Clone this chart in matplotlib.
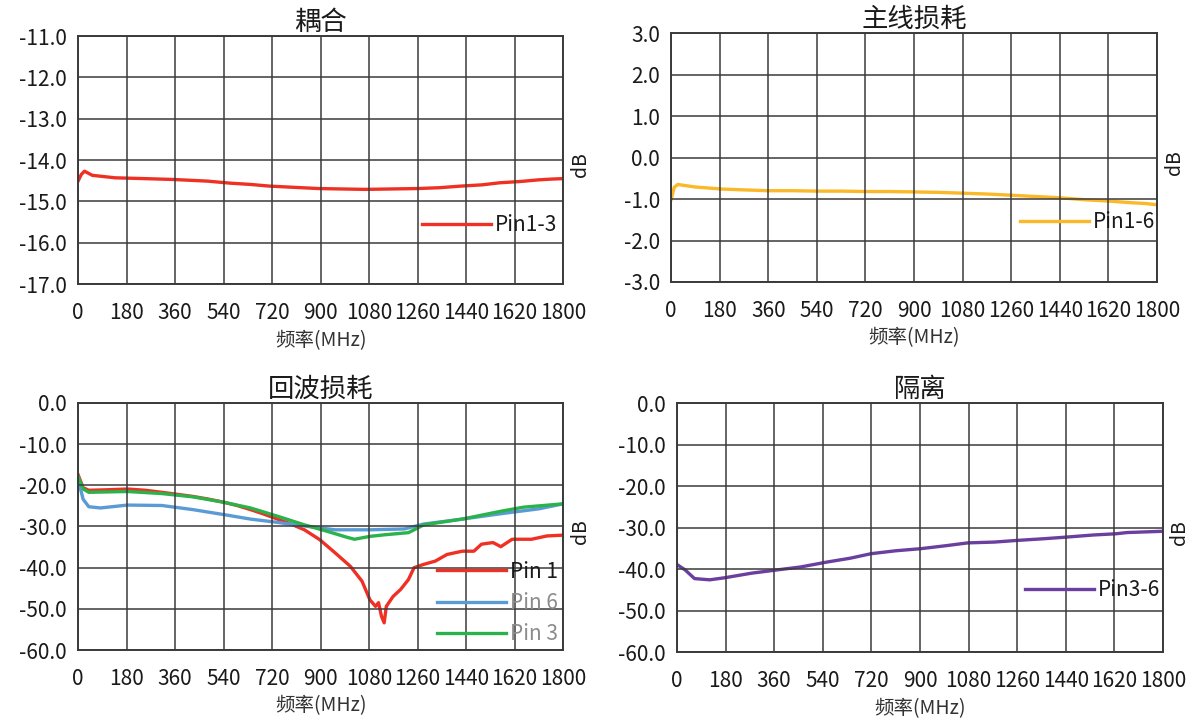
import numpy as np
import matplotlib
matplotlib.use('Agg')
import matplotlib.pyplot as plt

plt.rcParams['font.family'] = ['Noto Sans CJK SC', 'DejaVu Sans']

# frequency ticks (MHz)
x_ticks = [0, 180, 360, 540, 720, 900, 1080, 1260, 1440, 1620, 1800]

# 耦合 Pin1-3
f_cpl = [0, 12, 24, 53, 138, 250, 352, 480, 566, 640, 709, 800, 894, 980, 1066, 1160, 1258, 1340, 1422, 1500, 1565, 1640, 1708, 1760, 1800]
v_cpl = [-14.51, -14.35, -14.27, -14.37, -14.43, -14.45, -14.47, -14.51, -14.56, -14.59, -14.63, -14.66, -14.69, -14.70, -14.71, -14.70, -14.69, -14.67, -14.63, -14.60, -14.55, -14.52, -14.48, -14.46, -14.45]

# 主线损耗 Pin1-6
f_il = [0, 12, 25, 89, 187, 270, 356, 450, 539, 630, 721, 810, 904, 990, 1080, 1170, 1263, 1350, 1439, 1537, 1622, 1706, 1760, 1800]
v_il = [-1.02, -0.72, -0.65, -0.71, -0.76, -0.78, -0.80, -0.80, -0.81, -0.81, -0.82, -0.82, -0.83, -0.84, -0.86, -0.88, -0.91, -0.94, -0.97, -1.02, -1.05, -1.09, -1.11, -1.14]

# 回波损耗 Pin 1 / Pin 6 / Pin 3
f_p1 = [0, 19, 40, 100, 183, 250, 311, 370, 426, 480, 540, 590, 640, 690, 740, 790, 840, 897, 954, 1011, 1054, 1083, 1104, 1115, 1126, 1136, 1144, 1169, 1197, 1226, 1247, 1283, 1326, 1369, 1426, 1469, 1497, 1540, 1569, 1611, 1683, 1740, 1800]
v_p1 = [-17.4, -20.6, -21.2, -21.1, -20.9, -21.2, -21.7, -22.2, -22.7, -23.3, -24.1, -24.9, -25.9, -27.0, -28.2, -29.4, -30.8, -33.2, -36.4, -39.7, -43.3, -47.8, -49.4, -48.5, -51.8, -53.4, -49.4, -47.0, -45.3, -42.9, -40.0, -39.2, -38.4, -36.8, -36.0, -36.0, -34.3, -33.9, -34.9, -33.1, -33.1, -32.3, -32.1]

f_p6 = [0, 19, 40, 83, 183, 311, 426, 540, 640, 740, 854, 954, 1083, 1211, 1283, 1426, 1569, 1711, 1800]
v_p6 = [-18.5, -23.4, -25.2, -25.5, -24.8, -24.9, -25.9, -27.1, -28.2, -29.0, -30.0, -30.8, -30.8, -30.6, -29.4, -28.2, -26.9, -25.7, -24.5]

f_p3 = [0, 19, 40, 183, 311, 426, 540, 640, 740, 840, 926, 997, 1026, 1083, 1140, 1226, 1283, 1426, 1569, 1654, 1800]
v_p3 = [-17.8, -20.9, -21.7, -21.5, -22.0, -22.8, -24.1, -25.5, -27.5, -29.6, -31.2, -32.6, -33.1, -32.4, -32.0, -31.5, -29.6, -28.2, -26.3, -25.3, -24.5]

# 隔离 Pin3-6
f_iso = [0, 30, 65, 121, 177, 276, 360, 458, 557, 641, 719, 810, 902, 993, 1077, 1176, 1260, 1358, 1443, 1541, 1626, 1668, 1800]
v_iso = [-38.9, -40.2, -42.3, -42.6, -42.1, -41.0, -40.3, -39.5, -38.3, -37.4, -36.3, -35.6, -35.1, -34.4, -33.7, -33.5, -33.1, -32.7, -32.3, -31.8, -31.5, -31.2, -30.9]

grid_c = '#3a3a3a'


def setup(ax, title, ylim, yticks):
  ax.set_xlim(0, 1800)
  ax.set_ylim(*ylim)
  ax.set_xticks(x_ticks)
  ax.set_yticks(yticks)
  ax.set_yticklabels([f"{t:.1f}" for t in yticks])
  ax.grid(True, color=grid_c, lw=1.1)
  ax.set_axisbelow(False)
  for s in ax.spines.values():
    s.set_color(grid_c)
    s.set_linewidth(1.4)
  ax.tick_params(axis='x', pad=13)
  ax.tick_params(axis='y', pad=8)
  ax.tick_params(length=0, labelsize=15, colors='#1a1a1a')
  ax.set_title(title, fontsize=19, pad=2, color='#1a1a1a')
  ax.set_xlabel('频率(MHz)', fontsize=14, color='#333333', labelpad=4)
  ax.text(1.035, 0.48, 'dB', rotation=90, transform=ax.transAxes,
          ha='center', va='center', fontsize=14, color='#1a1a1a')


fig = plt.figure(figsize=(11.95, 7.24), dpi=100)
ax1 = fig.add_axes([0.0653, 0.6077, 0.4059, 0.3425])
ax2 = fig.add_axes([0.5615, 0.6105, 0.4067, 0.3439])
ax3 = fig.add_axes([0.0653, 0.1022, 0.4059, 0.3412])
ax4 = fig.add_axes([0.5665, 0.0994, 0.4067, 0.3439])

setup(ax1, '耦合', (-17, -11), np.arange(-17, -10.5, 1.0))
setup(ax2, '主线损耗', (-3, 3), np.arange(-3, 3.5, 1.0))
setup(ax3, '回波损耗', (-60, 0), np.arange(-60, 5, 10.0))
setup(ax4, '隔离', (-60, 0), np.arange(-60, 5, 10.0))

lw = 2.4
ax1.plot(f_cpl, v_cpl, color='#ee3124', lw=lw, label='Pin1-3', zorder=1)
ax2.plot(f_il, v_il, color='#fbb829', lw=lw, label='Pin1-6', zorder=1)
ax3.plot(f_p1, v_p1, color='#ee3124', lw=lw, label='Pin 1', zorder=1)
ax3.plot(f_p6, v_p6, color='#5b9bd5', lw=lw, label='Pin 6', zorder=1)
ax3.plot(f_p3, v_p3, color='#2ab24b', lw=lw, label='Pin 3', zorder=1)
ax4.plot(f_iso, v_iso, color='#6a3fa0', lw=lw, label='Pin3-6', zorder=1)

leg_kw = dict(frameon=False, fontsize=15, handlelength=3.3, handletextpad=0.2,
              borderpad=0, borderaxespad=0, loc='center left')
ax1.legend(bbox_to_anchor=(0.709, 0.238), **leg_kw)
ax2.legend(bbox_to_anchor=(0.718, 0.241), **leg_kw)
ax4.legend(bbox_to_anchor=(0.716, 0.249), **leg_kw)
leg3 = ax3.legend(bbox_to_anchor=(0.74, 0.19), labelspacing=0.45, **leg_kw)
for t, c in zip(leg3.get_texts(), ['#1a1a1a', '#8c8c8c', '#8c8c8c']):
  t.set_color(c)
for leg in [ax1.get_legend(), ax2.get_legend(), ax4.get_legend()]:
  for t in leg.get_texts():
    t.set_color('#1a1a1a')

fig.savefig('out.png', dpi=100)
